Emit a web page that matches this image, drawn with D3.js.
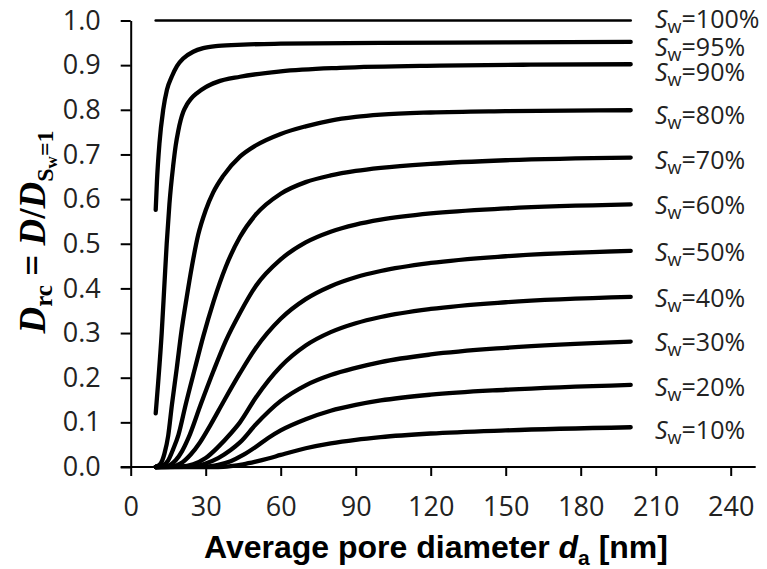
<!DOCTYPE html>
<html>
<head>
<meta charset="utf-8">
<script src="https://cdn.jsdelivr.net/npm/d3@7"></script>
<style>
  body { margin: 0; background: #fff; }
  svg { display: block; }
  .tick text { font-family: "Open Sans", sans-serif; font-size: 27px; fill: #222; }
  .label { font-family: "Open Sans", sans-serif; font-size: 25px; fill: #222; }
</style>
</head>
<body>
<svg id="chart"></svg>
<script>
// Water saturation of each curve (%)
var saturations = [100, 95, 90, 80, 70, 60, 50, 40, 30, 20, 10];

// Curves: [average pore diameter (nm), D_rc]
var sw100 = [[10, 1.0], [200, 1.0]];
var sw95 = [[10, 0.576], [10.5, 0.64], [11.5, 0.725], [13, 0.80], [14.5, 0.845], [16.4, 0.874], [18.5, 0.898], [21, 0.915], [25, 0.930], [29, 0.938], [35, 0.943], [45, 0.946], [60, 0.948], [100, 0.950], [150, 0.951], [200, 0.952]];
var sw90 = [[10, 0.12], [11, 0.19], [12.4, 0.30], [13.5, 0.41], [14.4, 0.50], [15.5, 0.59], [17, 0.675], [18, 0.72], [19, 0.752], [20, 0.777], [21, 0.795], [22.5, 0.812], [24, 0.824], [26.4, 0.837], [30, 0.851], [34.4, 0.862], [43.7, 0.874], [60, 0.886], [83.7, 0.894], [123.7, 0.899], [160, 0.901], [200, 0.902]];
var sw80 = [[10, 0], [12, 0.008], [13.5, 0.03], [15, 0.07], [16.5, 0.14], [18.4, 0.22], [20.2, 0.30], [22.4, 0.38], [24.5, 0.45], [27, 0.52], [30, 0.575], [33, 0.615], [37, 0.652], [43.7, 0.695], [50, 0.72], [60, 0.746], [70, 0.763], [80, 0.776], [90, 0.784], [100, 0.789], [120, 0.794], [150, 0.797], [200, 0.799]];
var sw70 = [[10, 0], [13, 0.004], [15, 0.015], [17, 0.04], [19.1, 0.072], [22, 0.14], [25.7, 0.221], [29, 0.292], [33.1, 0.37], [38, 0.448], [43.7, 0.515], [50, 0.565], [60, 0.612], [70, 0.638], [80, 0.653], [90, 0.663], [100, 0.670], [120, 0.679], [150, 0.687], [200, 0.693]];
var sw60 = [[10, 0], [15, 0.003], [18, 0.015], [20.5, 0.035], [23.1, 0.065], [28, 0.14], [33.1, 0.215], [38, 0.282], [43.7, 0.345], [50, 0.405], [60, 0.465], [70, 0.503], [80, 0.527], [90, 0.543], [100, 0.554], [120, 0.568], [150, 0.579], [200, 0.588]];
var sw50 = [[10, 0], [17, 0.002], [20, 0.008], [24, 0.028], [27.7, 0.055], [32, 0.095], [37, 0.145], [43.7, 0.21], [50, 0.266], [60, 0.332], [70, 0.376], [80, 0.405], [90, 0.425], [100, 0.439], [120, 0.457], [150, 0.472], [200, 0.484]];
var sw40 = [[10, 0], [20, 0.001], [25, 0.006], [30, 0.02], [35, 0.045], [40, 0.075], [43.7, 0.10], [50, 0.155], [60, 0.225], [70, 0.272], [80, 0.302], [90, 0.322], [100, 0.336], [120, 0.354], [150, 0.369], [200, 0.381]];
var sw30 = [[10, 0], [25, 0.001], [30, 0.008], [35, 0.02], [40, 0.038], [43.7, 0.055], [50, 0.095], [60, 0.148], [70, 0.183], [80, 0.206], [90, 0.222], [100, 0.235], [120, 0.252], [150, 0.267], [200, 0.281]];
var sw20 = [[10, 0], [30, 0.001], [35, 0.005], [40, 0.013], [45, 0.027], [50, 0.045], [55, 0.065], [60, 0.082], [70, 0.107], [80, 0.126], [90, 0.139], [100, 0.149], [120, 0.162], [150, 0.173], [200, 0.184]];
var sw10 = [[10, 0], [35, 0], [40, 0.002], [45, 0.006], [50, 0.012], [55, 0.019], [60, 0.027], [70, 0.042], [80, 0.053], [90, 0.061], [100, 0.067], [120, 0.075], [150, 0.082], [200, 0.089]];

var curves = [sw100, sw95, sw90, sw80, sw70, sw60, sw50, sw40, sw30, sw20, sw10];

// Axis ticks
var xTicks = [0, 30, 60, 90, 120, 150, 180, 210, 240];
var yTicks = [0, 0.1, 0.2, 0.3, 0.4, 0.5, 0.6, 0.7, 0.8, 0.9, 1.0];

var width = 767,
    height = 569;

var svg = d3.select("#chart")
    .attr("width", width)
    .attr("height", height);

var x = d3.scaleLinear().domain([0, 250]).range([130.7, 755.7]);
var y = d3.scaleLinear().domain([0, 1]).range([467, 20.5]);

// Axes
var xAxis = svg.append("g")
    .attr("transform", "translate(0," + y(0) + ")")
    .call(d3.axisBottom(x).tickValues(xTicks).tickSize(9).tickPadding(21).tickSizeOuter(0));

var yAxis = svg.append("g")
    .attr("transform", "translate(" + x(0) + ",0)")
    .call(d3.axisLeft(y).tickValues(yTicks).tickSize(10).tickPadding(20)
        .tickFormat(d3.format(".1f")).tickSizeOuter(0));

svg.selectAll(".domain").attr("stroke", "#000").attr("stroke-width", 2);
svg.selectAll(".tick line").attr("stroke", "#000").attr("stroke-width", 2);

// extend x axis line left to the 0.0 tick end
xAxis.select(".domain").attr("d", "M" + (x(0) - 10) + ",0H" + x(250));

// Curves
var line = d3.line()
    .x(function (d) { return x(d[0]); })
    .y(function (d) { return y(d[1]); })
    .curve(d3.curveMonotoneX);

svg.append("g")
    .selectAll("path")
    .data(curves)
    .enter().append("path")
    .attr("d", line)
    .attr("fill", "none")
    .attr("stroke", "#000")
    .attr("stroke-width", function (d, i) { return i == 0 ? 2.6 : 4.3; })
    .attr("stroke-linecap", "round")
    .attr("stroke-linejoin", "round");

// Curve labels, nudged apart where the curves crowd together
var nudge = { 100: -1, 95: 6, 90: 8, 80: 5, 70: 2.5, 60: 1, 50: 1.5, 40: 1.5, 30: 1, 20: 2.5, 10: 3 };
var labels = svg.append("g")
    .selectAll("text")
    .data(curves)
    .enter().append("text")
    .attr("class", "label")
    .attr("x", 655)
    .attr("y", function (d, i) {
        var last = d[d.length - 1];
        return y(last[1]) + nudge[saturations[i]] + 8.5;
    });

labels.append("tspan").attr("font-style", "italic").text("S");
labels.append("tspan").attr("font-size", "18px").attr("dy", 5).text("w");
labels.append("tspan").attr("dy", -5).text(function (d, i) { return "=" + saturations[i] + "%"; });

// X axis title
var xt = svg.append("text")
    .attr("x", 436)
    .attr("y", 558)
    .attr("text-anchor", "middle")
    .style("font-family", "'Liberation Sans', Arial, sans-serif")
    .style("font-weight", "bold")
    .style("font-size", "32px")
    .attr("fill", "#000");
xt.append("tspan").text("Average pore diameter ");
xt.append("tspan").attr("font-style", "italic").text("d");
xt.append("tspan").attr("font-size", "21px").attr("dy", 7).text("a");
xt.append("tspan").attr("dy", -7).text(" [nm]");

// Y axis title
var yt = svg.append("text")
    .attr("transform", "translate(45,232) rotate(-90)")
    .attr("text-anchor", "middle")
    .style("font-family", "'Liberation Serif', 'DejaVu Serif', serif")
    .style("font-weight", "bold")
    .style("font-size", "37px")
    .attr("fill", "#000");
yt.append("tspan").attr("font-style", "italic").text("D");
yt.append("tspan").attr("font-size", "25px").attr("dy", 7).text("rc");
yt.append("tspan").attr("dy", -7).text(" = ");
yt.append("tspan").attr("font-style", "italic").text("D");
yt.append("tspan").text("/");
yt.append("tspan").attr("font-style", "italic").text("D");
yt.append("tspan").attr("font-size", "24px").attr("dy", 8).text("S");
yt.append("tspan").attr("font-size", "17px").attr("dy", 4).text("w");
yt.append("tspan").attr("font-size", "24px").attr("dy", -4).text("=1");
</script>
</body>
</html>
